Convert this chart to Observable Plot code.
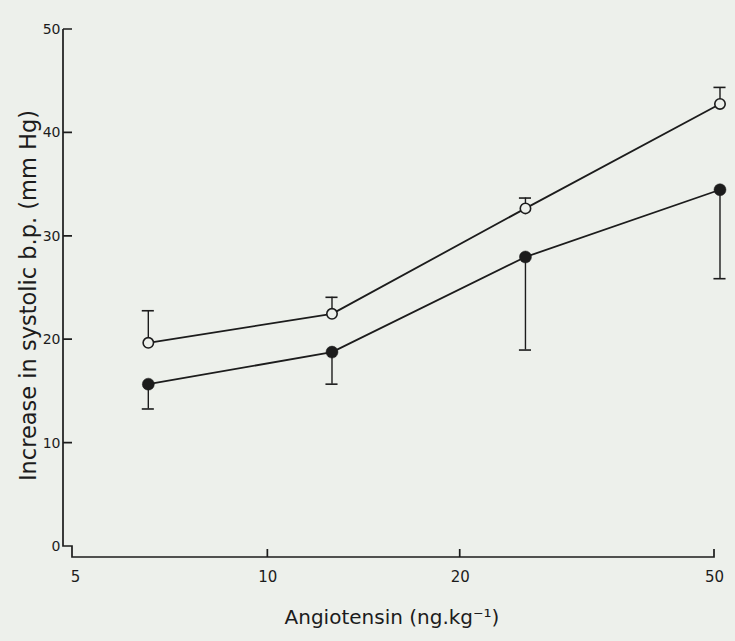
<!DOCTYPE html>
<html>
<head>
<meta charset="utf-8">
<script src="https://cdn.jsdelivr.net/npm/d3@7"></script>
<script src="https://cdn.jsdelivr.net/npm/@observablehq/plot@0.6"></script>
<style>
  html, body { margin: 0; padding: 0; background: #edf0eb; }
  #chart svg { display: block; background: #edf0eb; }
</style>
</head>
<body>
<div id="chart"></div>
<script>
// Doses (ng/kg, log scale) and responses
const doses = [6.5, 12.6, 25.3, 51];
const openMean = [19.7, 22.5, 32.7, 42.8];
const openUpper = [22.8, 24.1, 33.7, 44.4];
const filledMean = [15.7, 18.8, 28.0, 34.5];
const filledLower = [13.3, 15.7, 19.0, 25.9];

const xTicks = [5, 10, 20, 50];
const yTicks = [0, 10, 20, 30, 40, 50];
const xTitle = "Angiotensin (ng.kg\u207B\u00B9)";
const yTitle = "Increase in systolic b.p. (mm Hg)";

const ink = "#1c1c1c";
const bg = "#edf0eb";
const font = "DejaVu Sans";

const openData = doses.map((d, i) => ({dose: d, mean: openMean[i], err: openUpper[i]}));
const filledData = doses.map((d, i) => ({dose: d, mean: filledMean[i], err: filledLower[i]}));

// Axis lines drawn with the plot's own scales
function axisLines(...args) {
  const s = args.find(a => a && typeof a.x === "function" && typeof a.y === "function");
  const X = s.x, Y = s.y;
  const xl = X(5) - 12;       // detached y axis
  const xh = X(5) - 3;        // hook
  const yb = Y(0) + 11;       // detached x axis
  let d = `M${xl},${Y(50)}V${Y(0)}H${xh}V${yb}H${X(50)}V${yb - 8}`;
  for (const v of yTicks) if (v !== 0) d += `M${xl},${Y(v)}h9`;
  for (const v of xTicks) if (v !== 5 && v !== 50) d += `M${X(v)},${yb}v-8`;
  const g = d3.create("svg:g");
  g.append("path").attr("d", d).attr("fill", "none").attr("stroke", ink)
    .attr("stroke-width", 1.7).attr("stroke-linejoin", "miter");
  return g.node();
}

const capF = 1.022;

const chart = Plot.plot({
  width: 735,
  height: 641,
  marginLeft: 63,
  marginRight: 21,
  marginTop: 29,
  marginBottom: 84,
  style: {background: bg, fontFamily: font, color: ink},
  x: {type: "log", domain: [5, 50], range: [75, 714], axis: null},
  y: {type: "linear", domain: [0, 50], range: [546, 29], axis: null},
  marks: [
    axisLines,
    // tick labels
    Plot.text(yTicks, {y: d => d, frameAnchor: "left", dx: -3, textAnchor: "end", fontSize: 14, fill: ink}),
    Plot.text(xTicks, {x: d => d, frameAnchor: "bottom", dy: 24, fontSize: 15, fill: ink}),
    // titles
    Plot.text([yTitle], {frameAnchor: "left", textAnchor: "middle", dx: -35, dy: 2, rotate: -90, fontSize: 22.5, fill: ink}),
    Plot.text([xTitle], {frameAnchor: "bottom", dy: 66, dx: 3, fontSize: 20, fill: ink}),
    // error bars
    Plot.ruleX(openData, {x: "dose", y1: "mean", y2: "err", stroke: ink, strokeWidth: 1.4}),
    Plot.ruleY(openData, {y: "err", x1: d => d.dose / capF, x2: d => d.dose * capF, stroke: ink, strokeWidth: 1.6}),
    Plot.ruleX(filledData, {x: "dose", y1: "mean", y2: "err", stroke: ink, strokeWidth: 1.4}),
    Plot.ruleY(filledData, {y: "err", x1: d => d.dose / capF, x2: d => d.dose * capF, stroke: ink, strokeWidth: 1.6}),
    // lines
    Plot.line(openData, {x: "dose", y: "mean", stroke: ink, strokeWidth: 1.8}),
    Plot.line(filledData, {x: "dose", y: "mean", stroke: ink, strokeWidth: 1.8}),
    // points
    Plot.dot(openData, {x: "dose", y: "mean", r: 5.2, fill: bg, stroke: ink, strokeWidth: 1.6}),
    Plot.dot(filledData, {x: "dose", y: "mean", r: 6, fill: ink, stroke: ink, strokeWidth: 0.5})
  ]
});

document.getElementById("chart").appendChild(chart);
</script>
</body>
</html>
